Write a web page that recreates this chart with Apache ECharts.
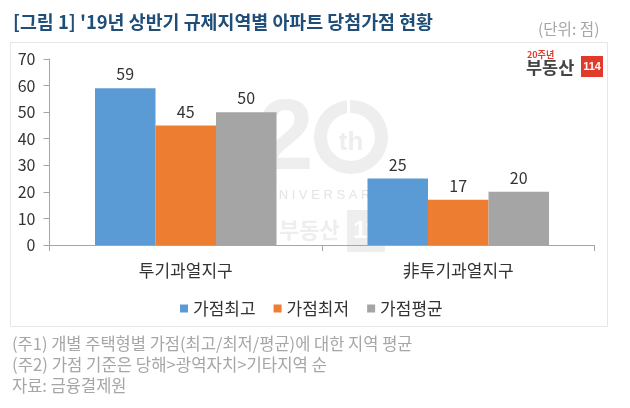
<!DOCTYPE html>
<html>
<head>
<meta charset="utf-8">
<script src="https://cdn.jsdelivr.net/npm/echarts@6/dist/echarts.min.js"></script>
<style>
    html, body { margin: 0; padding: 0; background: #fff; }
    #main { width: 630px; height: 408px; }
</style>
</head>
<body>
<div id="main"></div>
<script>
var categories = ['투기과열지구', '非투기과열지구'];
var seriesNames = ['가점최고', '가점최저', '가점평균'];
var seriesColors = ['#5b9bd5', '#ed7d31', '#a5a5a5'];
var maxValues = [59, 25];
var minValues = [45, 17];
var avgValues = [50, 20];
var yTicks = {min: 0, max: 70, interval: 10};
var titleText = "[그림 1] '19년 상반기 규제지역별 아파트 당첨가점 현황";
var unitText = '(단위: 점)';
var noteLines = [
    '(주1) 개별 주택형별 가점(최고/최저/평균)에 대한 지역 평균',
    '(주2) 가점 기준은 당해>광역자치>기타지역 순',
    '자료: 금융결제원'
];

var FONT = '"Noto Sans CJK KR", sans-serif';
var LATIN = '"Liberation Sans", sans-serif';
var AXIS_GREY = '#a6a6a6';
var NOTE_GREY = '#a6a6a6';
var MARK_GREY = '#eeeeee';
var chart = echarts.init(document.getElementById('main'), null, {renderer: 'canvas'});

function makeSeries(i, values) {
    return {
        name: seriesNames[i],
        type: 'bar',
        barWidth: 60.5,
        barGap: 0,
        z: 3,
        itemStyle: {color: seriesColors[i]},
        label: {
            show: true,
            position: 'top',
            distance: 6,
            color: '#333',
            fontFamily: FONT,
            fontSize: 16
        },
        data: values
    };
}

// text placed by its vertical middle
function textAt(text, x, y, font, fill, align, z) {
    return {
        type: 'text',
        z: z || 5,
        style: {text: text, x: x, y: y, font: font, fill: fill,
            align: align || 'left', verticalAlign: 'middle'}
    };
}

chart.setOption({
    animation: false,
    backgroundColor: '#fff',
    grid: {left: 49.5, right: 35.5, top: 59, bottom: 163},
    legend: {
        data: seriesNames,
        left: 175,
        top: 295,
        itemWidth: 8,
        itemHeight: 8,
        itemGap: 18,
        icon: 'rect',
        textStyle: {color: '#333', fontFamily: FONT, fontSize: 17}
    },
    xAxis: {
        type: 'category',
        data: categories,
        axisLine: {lineStyle: {color: AXIS_GREY}},
        axisTick: {show: true, length: 6, lineStyle: {color: AXIS_GREY}},
        axisLabel: {color: '#333', fontFamily: FONT, fontSize: 17, margin: 17}
    },
    yAxis: {
        type: 'value',
        min: yTicks.min,
        max: yTicks.max,
        interval: yTicks.interval,
        splitLine: {show: false},
        axisLine: {show: true, lineStyle: {color: AXIS_GREY}},
        axisTick: {show: true, length: 6, lineStyle: {color: AXIS_GREY}},
        axisLabel: {color: '#333', fontFamily: FONT, fontSize: 16, margin: 14}
    },
    series: [
        makeSeries(0, maxValues),
        makeSeries(1, minValues),
        makeSeries(2, avgValues)
    ],
    graphic: [
        // chart panel
        {type: 'rect', z: -10, shape: {x: 10.5, y: 42.5, width: 597, height: 284},
            style: {fill: '#fff', stroke: '#e6e6e6', lineWidth: 1}},
        // heading, unit and notes
        textAt(titleText, 13, 22, 'bold 18.4px ' + FONT, '#1f4e79'),
        textAt(unitText, 538, 29, '15.6px ' + FONT, NOTE_GREY),
        textAt(noteLines[0], 12, 344, '16.5px ' + FONT, NOTE_GREY),
        textAt(noteLines[1], 12, 365, '16.7px ' + FONT, NOTE_GREY),
        textAt(noteLines[2], 12, 386, '16.5px ' + FONT, NOTE_GREY),
        // logo
        textAt('20주년', 527, 55, 'bold 9px ' + FONT, '#e03a2a'),
        textAt('부동산', 526, 67, 'bold 17.5px ' + FONT, '#444'),
        {type: 'rect', z: 4, shape: {x: 581, y: 56, width: 22, height: 21}, style: {fill: '#e03a2a'}},
        textAt('114', 592, 67, 'bold 11px ' + LATIN, '#fff', 'center'),
        // watermark behind the bars
        textAt('2', 258, 141, 'bold 100px ' + LATIN, MARK_GREY, 'left', -5),
        {type: 'ring', z: -5, shape: {cx: 351, cy: 137, r: 37, r0: 24}, style: {fill: MARK_GREY}},
        {type: 'rect', z: -4, shape: {x: 347, y: 99, width: 3, height: 15}, style: {fill: '#fff'}},
        textAt('th', 351, 143, 'bold 26px ' + LATIN, MARK_GREY, 'center', -5),
        textAt('A N N I V E R S A R Y', 318, 195, '13px ' + LATIN, '#e4e4e4', 'center', -5),
        textAt('부동산', 279, 230, 'bold 22px ' + FONT, MARK_GREY, 'left', -5),
        {type: 'rect', z: -5, shape: {x: 347, y: 210, width: 38, height: 42}, style: {fill: MARK_GREY}},
        textAt('11', 366, 231, 'bold 24px ' + LATIN, '#fff', 'center', -4)
    ]
});
</script>
</body>
</html>
